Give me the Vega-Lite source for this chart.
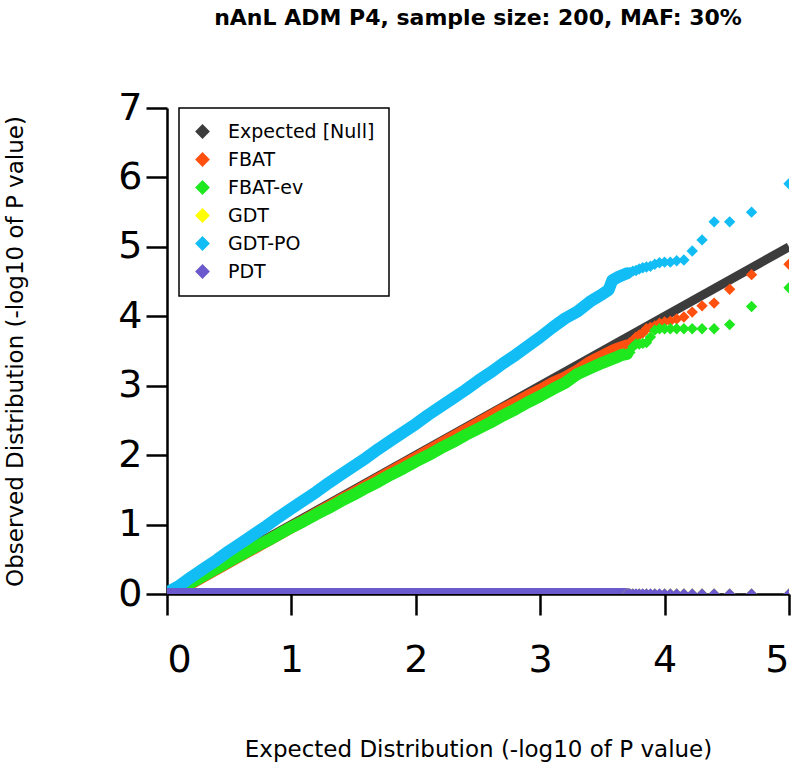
{
  "$schema": "https://vega.github.io/schema/vega-lite/v6.json",
  "width": 622,
  "height": 486,
  "autosize": {"type": "none"},
  "padding": {"left": 167, "top": 108, "right": 11, "bottom": 182},
  "background": "white",
  "title": {
    "text": "nAnL ADM P4, sample size: 200, MAF: 30%",
    "font": "DejaVu Sans",
    "fontSize": 22,
    "fontWeight": "bold",
    "color": "black",
    "anchor": "middle",
    "offset": 59
  },
  "config": {
    "view": {"stroke": null},
    "axis": {
      "domainColor": "black",
      "domainWidth": 2.5,
      "tickColor": "black",
      "tickWidth": 2.5,
      "tickSize": 21,
      "grid": false,
      "labelFont": "DejaVu Sans",
      "labelFontSize": 38,
      "labelColor": "black",
      "titleFont": "DejaVu Sans",
      "titleFontSize": 23,
      "titleFontWeight": "normal",
      "titleColor": "black"
    },
    "legend": {
      "orient": "none",
      "legendX": 12,
      "legendY": 0,
      "title": null,
      "strokeColor": "black",
      "fillColor": "white",
      "padding": 14,
      "rowPadding": 8,
      "labelFont": "DejaVu Sans",
      "labelFontSize": 19,
      "labelColor": "black",
      "labelOffset": 16,
      "symbolType": "diamond",
      "symbolSize": 160,
      "symbolStrokeColor": "black",
      "symbolStrokeWidth": 1.5
    }
  },
  "data": {
    "values": [
      {"s": "Expected [Null]", "x": 0, "y": 0},
      {"s": "Expected [Null]", "x": 5, "y": 5},

      {"s": "FBAT", "x": 0.02, "y": 0.03},
      {"s": "FBAT", "x": 0.1, "y": 0.05},
      {"s": "FBAT", "x": 0.2, "y": 0.16},
      {"s": "FBAT", "x": 0.3, "y": 0.26},
      {"s": "FBAT", "x": 0.4, "y": 0.36},
      {"s": "FBAT", "x": 0.5, "y": 0.46},
      {"s": "FBAT", "x": 0.6, "y": 0.56},
      {"s": "FBAT", "x": 0.7, "y": 0.66},
      {"s": "FBAT", "x": 0.8, "y": 0.76},
      {"s": "FBAT", "x": 0.9, "y": 0.86},
      {"s": "FBAT", "x": 1.0, "y": 0.96},
      {"s": "FBAT", "x": 1.1, "y": 1.06},
      {"s": "FBAT", "x": 1.2, "y": 1.16},
      {"s": "FBAT", "x": 1.3, "y": 1.26},
      {"s": "FBAT", "x": 1.4, "y": 1.36},
      {"s": "FBAT", "x": 1.5, "y": 1.46},
      {"s": "FBAT", "x": 1.6, "y": 1.56},
      {"s": "FBAT", "x": 1.7, "y": 1.66},
      {"s": "FBAT", "x": 1.8, "y": 1.76},
      {"s": "FBAT", "x": 1.9, "y": 1.86},
      {"s": "FBAT", "x": 2.0, "y": 1.96},
      {"s": "FBAT", "x": 2.1, "y": 2.06},
      {"s": "FBAT", "x": 2.2, "y": 2.16},
      {"s": "FBAT", "x": 2.3, "y": 2.26},
      {"s": "FBAT", "x": 2.4, "y": 2.36},
      {"s": "FBAT", "x": 2.5, "y": 2.46},
      {"s": "FBAT", "x": 2.6, "y": 2.56},
      {"s": "FBAT", "x": 2.7, "y": 2.66},
      {"s": "FBAT", "x": 2.8, "y": 2.75},
      {"s": "FBAT", "x": 2.9, "y": 2.85},
      {"s": "FBAT", "x": 3.0, "y": 2.94},
      {"s": "FBAT", "x": 3.1, "y": 3.04},
      {"s": "FBAT", "x": 3.2, "y": 3.12},
      {"s": "FBAT", "x": 3.3, "y": 3.22},
      {"s": "FBAT", "x": 3.4, "y": 3.34},
      {"s": "FBAT", "x": 3.5, "y": 3.43},
      {"s": "FBAT", "x": 3.6, "y": 3.52},
      {"s": "FBAT", "x": 3.65, "y": 3.55},
      {"s": "FBAT", "x": 3.699, "y": 3.58},
      {"s": "FBAT", "x": 3.721, "y": 3.62},
      {"s": "FBAT", "x": 3.745, "y": 3.65},
      {"s": "FBAT", "x": 3.770, "y": 3.70},
      {"s": "FBAT", "x": 3.796, "y": 3.73},
      {"s": "FBAT", "x": 3.824, "y": 3.76},
      {"s": "FBAT", "x": 3.854, "y": 3.82},
      {"s": "FBAT", "x": 3.886, "y": 3.84},
      {"s": "FBAT", "x": 3.921, "y": 3.86},
      {"s": "FBAT", "x": 3.959, "y": 3.90},
      {"s": "FBAT", "x": 4.000, "y": 3.92},
      {"s": "FBAT", "x": 4.046, "y": 3.93},
      {"s": "FBAT", "x": 4.097, "y": 3.96},
      {"s": "FBAT", "x": 4.155, "y": 3.99},
      {"s": "FBAT", "x": 4.222, "y": 4.06},
      {"s": "FBAT", "x": 4.301, "y": 4.15},
      {"s": "FBAT", "x": 4.398, "y": 4.19},
      {"s": "FBAT", "x": 4.523, "y": 4.39},
      {"s": "FBAT", "x": 4.699, "y": 4.60},
      {"s": "FBAT", "x": 5.000, "y": 4.75},

      {"s": "FBAT-ev", "x": 0.05, "y": 0.02},
      {"s": "FBAT-ev", "x": 0.1, "y": 0.06},
      {"s": "FBAT-ev", "x": 0.2, "y": 0.17},
      {"s": "FBAT-ev", "x": 0.3, "y": 0.27},
      {"s": "FBAT-ev", "x": 0.4, "y": 0.37},
      {"s": "FBAT-ev", "x": 0.5, "y": 0.47},
      {"s": "FBAT-ev", "x": 0.6, "y": 0.57},
      {"s": "FBAT-ev", "x": 0.7, "y": 0.67},
      {"s": "FBAT-ev", "x": 0.8, "y": 0.76},
      {"s": "FBAT-ev", "x": 0.9, "y": 0.86},
      {"s": "FBAT-ev", "x": 1.0, "y": 0.96},
      {"s": "FBAT-ev", "x": 1.1, "y": 1.05},
      {"s": "FBAT-ev", "x": 1.2, "y": 1.15},
      {"s": "FBAT-ev", "x": 1.3, "y": 1.24},
      {"s": "FBAT-ev", "x": 1.4, "y": 1.34},
      {"s": "FBAT-ev", "x": 1.5, "y": 1.43},
      {"s": "FBAT-ev", "x": 1.6, "y": 1.53},
      {"s": "FBAT-ev", "x": 1.7, "y": 1.62},
      {"s": "FBAT-ev", "x": 1.8, "y": 1.72},
      {"s": "FBAT-ev", "x": 1.9, "y": 1.81},
      {"s": "FBAT-ev", "x": 2.0, "y": 1.91},
      {"s": "FBAT-ev", "x": 2.1, "y": 2.00},
      {"s": "FBAT-ev", "x": 2.2, "y": 2.10},
      {"s": "FBAT-ev", "x": 2.3, "y": 2.19},
      {"s": "FBAT-ev", "x": 2.4, "y": 2.29},
      {"s": "FBAT-ev", "x": 2.5, "y": 2.38},
      {"s": "FBAT-ev", "x": 2.6, "y": 2.47},
      {"s": "FBAT-ev", "x": 2.7, "y": 2.57},
      {"s": "FBAT-ev", "x": 2.8, "y": 2.66},
      {"s": "FBAT-ev", "x": 2.9, "y": 2.76},
      {"s": "FBAT-ev", "x": 3.0, "y": 2.85},
      {"s": "FBAT-ev", "x": 3.1, "y": 2.95},
      {"s": "FBAT-ev", "x": 3.2, "y": 3.04},
      {"s": "FBAT-ev", "x": 3.3, "y": 3.17},
      {"s": "FBAT-ev", "x": 3.4, "y": 3.25},
      {"s": "FBAT-ev", "x": 3.5, "y": 3.33},
      {"s": "FBAT-ev", "x": 3.6, "y": 3.40},
      {"s": "FBAT-ev", "x": 3.65, "y": 3.44},
      {"s": "FBAT-ev", "x": 3.699, "y": 3.46},
      {"s": "FBAT-ev", "x": 3.721, "y": 3.48},
      {"s": "FBAT-ev", "x": 3.745, "y": 3.56},
      {"s": "FBAT-ev", "x": 3.770, "y": 3.60},
      {"s": "FBAT-ev", "x": 3.796, "y": 3.60},
      {"s": "FBAT-ev", "x": 3.824, "y": 3.61},
      {"s": "FBAT-ev", "x": 3.854, "y": 3.62},
      {"s": "FBAT-ev", "x": 3.886, "y": 3.70},
      {"s": "FBAT-ev", "x": 3.921, "y": 3.80},
      {"s": "FBAT-ev", "x": 3.959, "y": 3.82},
      {"s": "FBAT-ev", "x": 4.000, "y": 3.82},
      {"s": "FBAT-ev", "x": 4.046, "y": 3.82},
      {"s": "FBAT-ev", "x": 4.097, "y": 3.82},
      {"s": "FBAT-ev", "x": 4.155, "y": 3.82},
      {"s": "FBAT-ev", "x": 4.222, "y": 3.82},
      {"s": "FBAT-ev", "x": 4.301, "y": 3.82},
      {"s": "FBAT-ev", "x": 4.398, "y": 3.82},
      {"s": "FBAT-ev", "x": 4.523, "y": 3.88},
      {"s": "FBAT-ev", "x": 4.699, "y": 4.14},
      {"s": "FBAT-ev", "x": 5.000, "y": 4.41},

      {"s": "GDT", "x": 0, "y": 0},
      {"s": "GDT", "x": 1, "y": 0},
      {"s": "GDT", "x": 2, "y": 0},
      {"s": "GDT", "x": 3, "y": 0},
      {"s": "GDT", "x": 3.65, "y": 0},
      {"s": "GDT", "x": 3.699, "y": 0},
      {"s": "GDT", "x": 3.745, "y": 0},
      {"s": "GDT", "x": 3.796, "y": 0},
      {"s": "GDT", "x": 3.854, "y": 0},
      {"s": "GDT", "x": 3.921, "y": 0},
      {"s": "GDT", "x": 4.000, "y": 0},
      {"s": "GDT", "x": 4.046, "y": 0},
      {"s": "GDT", "x": 4.097, "y": 0},
      {"s": "GDT", "x": 4.155, "y": 0},
      {"s": "GDT", "x": 4.222, "y": 0},
      {"s": "GDT", "x": 4.301, "y": 0},
      {"s": "GDT", "x": 4.398, "y": 0},
      {"s": "GDT", "x": 4.523, "y": 0},
      {"s": "GDT", "x": 4.699, "y": 0},
      {"s": "GDT", "x": 5.000, "y": 0},

      {"s": "GDT-PO", "x": 0.0, "y": 0.02},
      {"s": "GDT-PO", "x": 0.1, "y": 0.12},
      {"s": "GDT-PO", "x": 0.2, "y": 0.25},
      {"s": "GDT-PO", "x": 0.3, "y": 0.37},
      {"s": "GDT-PO", "x": 0.4, "y": 0.49},
      {"s": "GDT-PO", "x": 0.5, "y": 0.62},
      {"s": "GDT-PO", "x": 0.6, "y": 0.74},
      {"s": "GDT-PO", "x": 0.7, "y": 0.86},
      {"s": "GDT-PO", "x": 0.8, "y": 0.98},
      {"s": "GDT-PO", "x": 0.9, "y": 1.11},
      {"s": "GDT-PO", "x": 1.0, "y": 1.23},
      {"s": "GDT-PO", "x": 1.1, "y": 1.35},
      {"s": "GDT-PO", "x": 1.2, "y": 1.47},
      {"s": "GDT-PO", "x": 1.3, "y": 1.60},
      {"s": "GDT-PO", "x": 1.4, "y": 1.72},
      {"s": "GDT-PO", "x": 1.5, "y": 1.84},
      {"s": "GDT-PO", "x": 1.6, "y": 1.96},
      {"s": "GDT-PO", "x": 1.7, "y": 2.09},
      {"s": "GDT-PO", "x": 1.8, "y": 2.21},
      {"s": "GDT-PO", "x": 1.9, "y": 2.33},
      {"s": "GDT-PO", "x": 2.0, "y": 2.45},
      {"s": "GDT-PO", "x": 2.1, "y": 2.58},
      {"s": "GDT-PO", "x": 2.2, "y": 2.70},
      {"s": "GDT-PO", "x": 2.3, "y": 2.82},
      {"s": "GDT-PO", "x": 2.4, "y": 2.94},
      {"s": "GDT-PO", "x": 2.5, "y": 3.07},
      {"s": "GDT-PO", "x": 2.6, "y": 3.19},
      {"s": "GDT-PO", "x": 2.7, "y": 3.32},
      {"s": "GDT-PO", "x": 2.8, "y": 3.44},
      {"s": "GDT-PO", "x": 2.9, "y": 3.57},
      {"s": "GDT-PO", "x": 3.0, "y": 3.70},
      {"s": "GDT-PO", "x": 3.1, "y": 3.84},
      {"s": "GDT-PO", "x": 3.2, "y": 3.97},
      {"s": "GDT-PO", "x": 3.3, "y": 4.07},
      {"s": "GDT-PO", "x": 3.4, "y": 4.21},
      {"s": "GDT-PO", "x": 3.5, "y": 4.32},
      {"s": "GDT-PO", "x": 3.55, "y": 4.38},
      {"s": "GDT-PO", "x": 3.58, "y": 4.52},
      {"s": "GDT-PO", "x": 3.62, "y": 4.56},
      {"s": "GDT-PO", "x": 3.66, "y": 4.59},
      {"s": "GDT-PO", "x": 3.699, "y": 4.62},
      {"s": "GDT-PO", "x": 3.721, "y": 4.63},
      {"s": "GDT-PO", "x": 3.745, "y": 4.65},
      {"s": "GDT-PO", "x": 3.770, "y": 4.66},
      {"s": "GDT-PO", "x": 3.796, "y": 4.68},
      {"s": "GDT-PO", "x": 3.824, "y": 4.70},
      {"s": "GDT-PO", "x": 3.854, "y": 4.71},
      {"s": "GDT-PO", "x": 3.886, "y": 4.72},
      {"s": "GDT-PO", "x": 3.921, "y": 4.75},
      {"s": "GDT-PO", "x": 3.959, "y": 4.77},
      {"s": "GDT-PO", "x": 4.000, "y": 4.78},
      {"s": "GDT-PO", "x": 4.046, "y": 4.78},
      {"s": "GDT-PO", "x": 4.097, "y": 4.80},
      {"s": "GDT-PO", "x": 4.155, "y": 4.81},
      {"s": "GDT-PO", "x": 4.222, "y": 4.94},
      {"s": "GDT-PO", "x": 4.301, "y": 5.10},
      {"s": "GDT-PO", "x": 4.398, "y": 5.36},
      {"s": "GDT-PO", "x": 4.523, "y": 5.36},
      {"s": "GDT-PO", "x": 4.699, "y": 5.50},
      {"s": "GDT-PO", "x": 5.000, "y": 5.91},

      {"s": "PDT", "x": 0, "y": 0},
      {"s": "PDT", "x": 1, "y": 0},
      {"s": "PDT", "x": 2, "y": 0},
      {"s": "PDT", "x": 3, "y": 0},
      {"s": "PDT", "x": 3.65, "y": 0},
      {"s": "PDT", "x": 3.699, "y": 0},
      {"s": "PDT", "x": 3.721, "y": 0},
      {"s": "PDT", "x": 3.745, "y": 0},
      {"s": "PDT", "x": 3.770, "y": 0},
      {"s": "PDT", "x": 3.796, "y": 0},
      {"s": "PDT", "x": 3.824, "y": 0},
      {"s": "PDT", "x": 3.854, "y": 0},
      {"s": "PDT", "x": 3.886, "y": 0},
      {"s": "PDT", "x": 3.921, "y": 0},
      {"s": "PDT", "x": 3.959, "y": 0},
      {"s": "PDT", "x": 4.000, "y": 0},
      {"s": "PDT", "x": 4.046, "y": 0},
      {"s": "PDT", "x": 4.097, "y": 0},
      {"s": "PDT", "x": 4.155, "y": 0},
      {"s": "PDT", "x": 4.222, "y": 0},
      {"s": "PDT", "x": 4.301, "y": 0},
      {"s": "PDT", "x": 4.398, "y": 0},
      {"s": "PDT", "x": 4.523, "y": 0},
      {"s": "PDT", "x": 4.699, "y": 0},
      {"s": "PDT", "x": 5.000, "y": 0}
    ]
  },
  "encoding": {
    "x": {
      "field": "x",
      "type": "quantitative",
      "scale": {"domain": [0, 5], "nice": false, "zero": false},
      "axis": {
        "values": [0, 1, 2, 3, 4, 5],
        "format": "d",
        "labelPadding": 26,
        "title": "Expected Distribution (-log10 of P value)",
        "titleY": 144
      }
    },
    "y": {
      "field": "y",
      "type": "quantitative",
      "scale": {"domain": [0, 7], "nice": false, "zero": false},
      "axis": {
        "values": [0, 1, 2, 3, 4, 5, 6, 7],
        "format": "d",
        "labelPadding": 4,
        "title": "Observed Distribution (-log10 of P value)",
        "titleX": -140
      }
    },
    "color": {
      "field": "s",
      "type": "nominal",
      "scale": {
        "domain": ["Expected [Null]", "FBAT", "FBAT-ev", "GDT", "GDT-PO", "PDT"],
        "range": ["#3c3c3c", "#ff5010", "#1fe81f", "#ffff00", "#12bdf5", "#6a5acd"]
      },
      "legend": {
        "encode": {
          "symbols": {
            "update": {
              "fill": {"scale": "color", "field": "value"},
              "stroke": {"value": "black"},
              "strokeWidth": {"value": 1.5},
              "opacity": {"value": 1}
            }
          },
          "legend": {
            "update": {"strokeWidth": {"value": 1.5}}
          }
        }
      }
    }
  },
  "layer": [
    {
      "transform": [{"filter": "datum.s == 'Expected [Null]'"}],
      "mark": {"type": "line", "strokeWidth": 9, "clip": true}
    },
    {
      "transform": [{"filter": "datum.s != 'Expected [Null]' && datum.x <= 3.7"}],
      "mark": {"type": "line", "strokeWidth": 12, "strokeCap": "round", "strokeJoin": "round", "clip": true}
    },
    {
      "transform": [{"filter": "datum.s != 'Expected [Null]' && datum.x >= 3.69"}],
      "mark": {"type": "point", "shape": "diamond", "filled": true, "size": 130, "opacity": 1, "clip": true}
    }
  ]
}
